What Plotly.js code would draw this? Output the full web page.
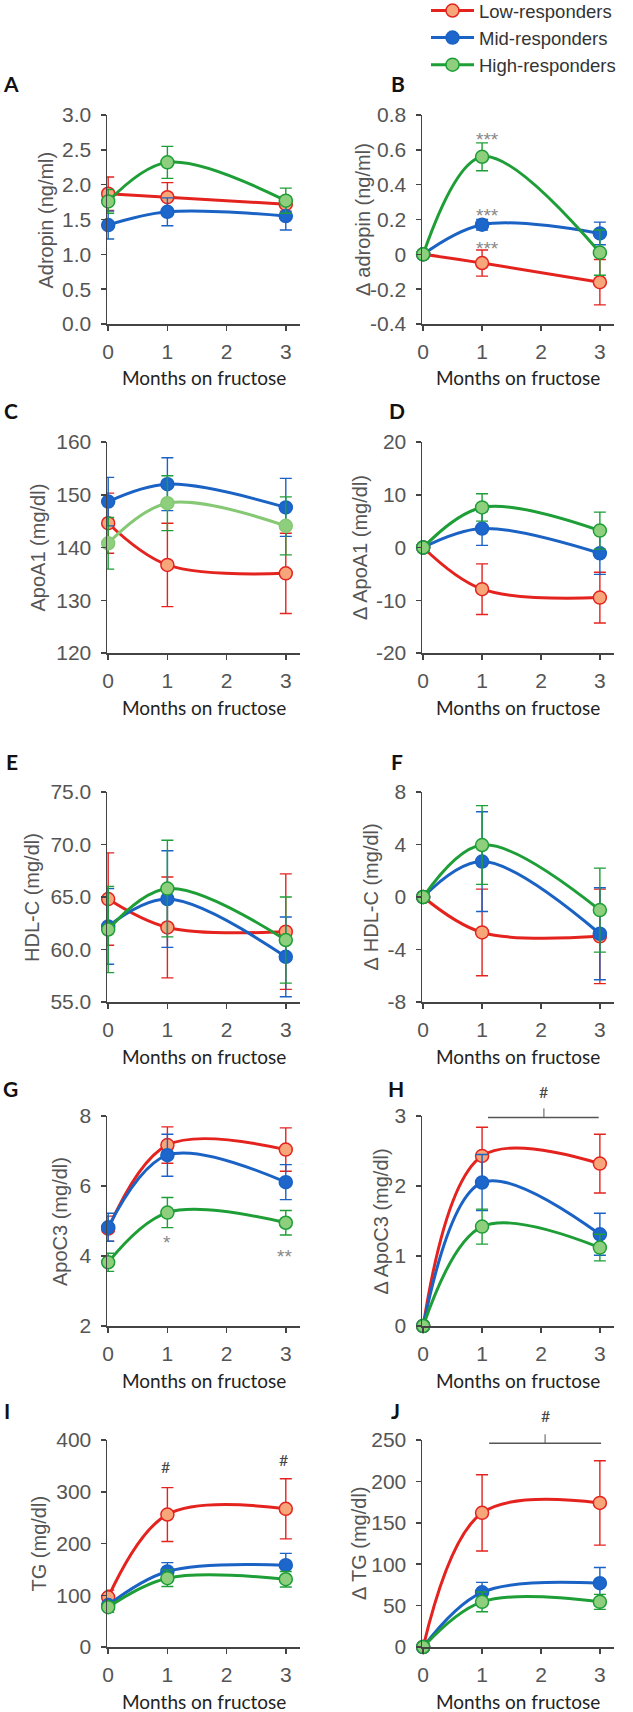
<!DOCTYPE html>
<html>
<head>
<meta charset="utf-8">
<script src="https://cdn.plot.ly/plotly-3.0.1.min.js"></script>
<style>
  html, body { margin: 0; padding: 0; background: #fff; }
  #graphDiv { width: 633px; height: 1712px; }
</style>
</head>
<body>
<div id="graphDiv"></div>
<script>
// x values and group names
var months = [0, 1, 3];
var groups = ['Low-responders', 'Mid-responders', 'High-responders'];

var panelLetters = ['A', 'B', 'C', 'D', 'E', 'F', 'G', 'H', 'I', 'J'];
var yTitles = ['Adropin (ng/ml)', '\u2206 adropin (ng/ml)', 'ApoA1 (mg/dl)', '\u2206 ApoA1 (mg/dl)',
  'HDL-C (mg/dl)', '\u2206 HDL-C (mg/dl)', 'ApoC3 (mg/dl)', '\u2206 ApoC3 (mg/dl)',
  'TG (mg/dl)', '\u2206 TG (mg/dl)'];

// y tick values / labels per panel
var adropinTicks = [0, 0.5, 1, 1.5, 2, 2.5, 3];
var adropinLabels = ['0.0', '0.5', '1.0', '1.5', '2.0', '2.5', '3.0'];
var dAdropinTicks = [-0.4, -0.2, 0, 0.2, 0.4, 0.6, 0.8];
var dAdropinLabels = ['-0.4', '-0.2', '0', '0.2', '0.4', '0.6', '0.8'];
var apoa1Ticks = [120, 130, 140, 150, 160];
var apoa1Labels = ['120', '130', '140', '150', '160'];
var dApoa1Ticks = [-20, -10, 0, 10, 20];
var dApoa1Labels = ['-20', '-10', '0', '10', '20'];
var hdlTicks = [55, 60, 65, 70, 75];
var hdlLabels = ['55.0', '60.0', '65.0', '70.0', '75.0'];
var dHdlTicks = [-8, -4, 0, 4, 8];
var dHdlLabels = ['-8', '-4', '0', '4', '8'];
var apoc3Ticks = [2, 4, 6, 8];
var apoc3Labels = ['2', '4', '6', '8'];
var dApoc3Ticks = [0, 1, 2, 3];
var dApoc3Labels = ['0', '1', '2', '3'];
var tgTicks = [0, 100, 200, 300, 400];
var tgLabels = ['0', '100', '200', '300', '400'];
var dTgTicks = [0, 50, 100, 150, 200, 250];
var dTgLabels = ['0', '50', '100', '150', '200', '250'];
var xTicks = [0, 1, 2, 3];

// means and SE, rows = low, mid, high
var adropinMean = [[1.87, 1.82, 1.72], [1.42, 1.61, 1.55], [1.76, 2.32, 1.77]];
var adropinErr = [[0.24, 0.21, 0.1], [0.2, 0.2, 0.2], [0.17, 0.23, 0.18]];
var dAdropinMean = [[0, -0.05, -0.16], [0, 0.17, 0.12], [0, 0.56, 0.01]];
var dAdropinErr = [[0, 0.075, 0.13], [0, 0.03, 0.065], [0, 0.08, 0.13]];
var apoa1Mean = [[144.6, 136.7, 135.1], [148.7, 152.0, 147.6], [140.8, 148.4, 144.1]];
var apoa1Err = [[5.7, 7.9, 7.6], [4.6, 5.0, 5.5], [4.9, 5.2, 5.5]];
var dApoa1Mean = [[0, -7.9, -9.5], [0, 3.6, -1.1], [0, 7.6, 3.2]];
var dApoa1Err = [[0, 4.8, 4.8], [0, 3.2, 4.0], [0, 2.6, 3.5]];
var hdlMean = [[64.8, 62.1, 61.7], [62.2, 64.8, 59.3], [61.9, 65.8, 60.9]];
var hdlErr = [[4.4, 4.8, 5.5], [3.6, 4.6, 3.8], [4.1, 4.6, 4.1]];
var dHdlMean = [[0, -2.7, -3.0], [0, 2.7, -2.8], [0, 3.96, -1.0]];
var dHdlErr = [[0, 3.3, 3.6], [0, 3.8, 3.5], [0, 3.0, 3.2]];
var apoc3Mean = [[4.78, 7.17, 7.04], [4.82, 6.88, 6.11], [3.82, 5.24, 4.95]];
var apoc3Err = [[0.36, 0.52, 0.62], [0.4, 0.6, 0.5], [0.26, 0.43, 0.35]];
var dApoc3Mean = [[0, 2.43, 2.32], [0, 2.05, 1.31], [0, 1.42, 1.12]];
var dApoc3Err = [[0, 0.41, 0.42], [0, 0.4, 0.3], [0, 0.25, 0.19]];
var tgMean = [[96, 256, 267], [81, 146, 158], [77, 133, 131]];
var tgErr = [[14, 52, 58], [8, 17, 23], [10, 16, 15]];
var dTgMean = [[0, 162, 174], [0, 66, 77], [0, 54.5, 54.5]];
var dTgErr = [[0, 46, 51], [0, 12, 19], [0, 12, 9]];

// significance marks (panel index, x, y, text)
var sigPanel = [1, 1, 1, 6, 6, 8, 8];
var sigX = [1.1, 1.1, 1.1, 1, 2.98, 0.97, 2.96];
var sigY = [0.66, 0.225, 0.035, 4.39, 3.98, 348, 363];
var sigText = ['***', '***', '***', '*', '**', '#', '#'];

// "#" brackets in panels H and J (bracket sits just under the axis top)
var bracketPanel = [7, 9];
var bracketX0 = [1.1, 1.12];
var bracketX1 = [2.98, 3.02];
var bracketY = [2.98, 246];
var bracketMid = [2.05, 2.07];

var means = [adropinMean, dAdropinMean, apoa1Mean, dApoa1Mean, hdlMean, dHdlMean, apoc3Mean, dApoc3Mean, tgMean, dTgMean];
var errs = [adropinErr, dAdropinErr, apoa1Err, dApoa1Err, hdlErr, dHdlErr, apoc3Err, dApoc3Err, tgErr, dTgErr];
var tickVals = [adropinTicks, dAdropinTicks, apoa1Ticks, dApoa1Ticks, hdlTicks, dHdlTicks, apoc3Ticks, dApoc3Ticks, tgTicks, dTgTicks];
var tickText = [adropinLabels, dAdropinLabels, apoa1Labels, dApoa1Labels, hdlLabels, dHdlLabels, apoc3Labels, dApoc3Labels, tgLabels, dTgLabels];

// styling
var W = 633, H = 1712;
var xRange = [-0.02, 3.24];
var lineColors = ['#e4231f', '#1a62c4', '#1e9e36'];
var fillColors = ['#f7a67a', '#1c66cc', '#8ecf7d'];
var rowTop = [115, 442, 792, 1116, 1440];
var rowBottom = [324, 653, 1002, 1326, 1647];
var colLeft = [107, 422];
var colRight = [300, 614];
var yTitleShift = [-62, -60, -70, -63, -75, -51, -47, -41, -69, -64];
var letterX = [11, 398, 11, 397, 12, 397, 10, 396, 7, 395];
var letterY = [83, 83, 410, 410, 762, 762, 1088, 1088, 1410, 1410];
var sans = 'Liberation Sans, Arial, sans-serif';
var calib = 'Lato, Open Sans, sans-serif';
var axisColor = '#444';

function toDomain(v, r) { return (v - r[0]) / (r[1] - r[0]); }

var data = [];
var layout = {
  width: W,
  height: H,
  margin: {l: 0, r: 0, t: 0, b: 0, autoexpand: false},
  paper_bgcolor: '#fff',
  plot_bgcolor: 'rgba(0,0,0,0)',
  showlegend: true,
  legend: {
    x: 426 / W, xanchor: 'left', y: 1 + 8 / H, yanchor: 'top',
    font: {family: sans, size: 18.5, color: '#333'},
    itemwidth: 43, tracegroupgap: 0, bgcolor: 'rgba(0,0,0,0)'
  },
  annotations: [],
  shapes: []
};

for (var p = 0; p < 10; p++) {
  var n = p + 1;
  var sfx = p === 0 ? '' : String(n);
  var row = Math.floor(p / 2), col = p % 2;
  var yv = tickVals[p];

  for (var s = 0; s < 3; s++) {
    var lc = lineColors[s], fc = fillColors[s];
    if (p === 2 && s === 2) { lc = '#86c873'; }
    data.push({
      x: months,
      y: means[p][s],
      xaxis: 'x' + sfx,
      yaxis: 'y' + sfx,
      name: groups[s],
      showlegend: p === 0,
      type: 'scatter',
      mode: 'lines+markers',
      cliponaxis: false,
      line: {shape: 'spline', color: lc, width: 3},
      marker: {size: 13, color: fc, line: {color: lc, width: 1.5}},
      error_y: {type: 'data', array: errs[p][s], visible: true, color: lineColors[s], thickness: 1.4, width: 6}
    });
  }

  layout['xaxis' + sfx] = {
    domain: [colLeft[col] / W, colRight[col] / W],
    anchor: 'y' + sfx,
    range: xRange,
    tickvals: xTicks,
    ticktext: xTicks.map(String),
    showline: true, linecolor: axisColor, linewidth: 1.5,
    ticks: 'outside', ticklen: 5, tickwidth: 1.5, tickcolor: axisColor,
    ticklabelstandoff: 3,
    tickfont: {family: sans, size: 21, color: '#555'},
    showgrid: false, zeroline: false, fixedrange: true
  };
  layout['yaxis' + sfx] = {
    domain: [1 - rowBottom[row] / H, 1 - rowTop[row] / H],
    anchor: 'x' + sfx,
    range: [yv[0], yv[yv.length - 1]],
    tickvals: yv,
    ticktext: tickText[p],
    showline: true, linecolor: axisColor, linewidth: 1.5,
    ticks: 'outside', ticklen: 5, tickwidth: 1.5, tickcolor: axisColor,
    ticklabelstandoff: 5,
    tickfont: {family: sans, size: 21, color: '#555'},
    showgrid: false, zeroline: false, fixedrange: true
  };

  // x title
  layout.annotations.push({
    xref: 'x' + sfx + ' domain', yref: 'y' + sfx + ' domain',
    x: 0.5, y: 0, yshift: -54, xanchor: 'center', yanchor: 'middle',
    text: 'Months on fructose', showarrow: false,
    font: {family: calib, size: 19, color: '#222'}
  });
  // y title
  layout.annotations.push({
    xref: 'x' + sfx + ' domain', yref: 'y' + sfx + ' domain',
    x: 0, y: 0.5, xshift: yTitleShift[p], xanchor: 'center', yanchor: 'middle',
    textangle: -90, text: yTitles[p], showarrow: false,
    font: {family: sans, size: 20, color: '#555'}
  });
  // panel letter
  layout.annotations.push({
    xref: 'paper', yref: 'paper',
    x: letterX[p] / W, y: 1 - letterY[p] / H, xanchor: 'center', yanchor: 'middle',
    text: '<b>' + panelLetters[p] + '</b>', showarrow: false,
    font: {family: calib, size: 21, color: '#111'}
  });
}

// significance text
for (var k = 0; k < sigText.length; k++) {
  var sx = String(sigPanel[k] + 1);
  var isHash = sigText[k] === '#';
  layout.annotations.push({
    xref: 'x' + sx, yref: 'y' + sx, x: sigX[k], y: sigY[k],
    text: sigText[k], showarrow: false, xanchor: 'center', yanchor: 'middle',
    font: isHash ? {family: calib, size: 16, color: '#444'} : {family: sans, size: 19, color: '#888'}
  });
}

// brackets with "#" above the plot top
for (var b = 0; b < bracketPanel.length; b++) {
  var bi = bracketPanel[b];
  var bx = String(bi + 1);
  var yr = [tickVals[bi][0], tickVals[bi][tickVals[bi].length - 1]];
  var yDom = toDomain(bracketY[b], yr);
  layout.shapes.push({
    type: 'line', xref: 'x' + bx + ' domain', yref: 'y' + bx + ' domain',
    x0: toDomain(bracketX0[b], xRange), x1: toDomain(bracketX1[b], xRange), y0: yDom, y1: yDom,
    line: {color: '#555', width: 1.5}
  });
  layout.shapes.push({
    type: 'line', xref: 'x' + bx + ' domain', yref: 'y' + bx + ' domain',
    xsizemode: 'scaled', ysizemode: 'pixel', yanchor: yDom,
    x0: toDomain(bracketMid[b], xRange), x1: toDomain(bracketMid[b], xRange), y0: 0, y1: 9,
    line: {color: '#555', width: 1}
  });
  layout.annotations.push({
    xref: 'x' + bx, yref: 'y' + bx, x: bracketMid[b], y: yr[1], yshift: 25,
    text: '#', showarrow: false, xanchor: 'center', yanchor: 'middle',
    font: {family: calib, size: 16, color: '#444'}
  });
}

Plotly.newPlot('graphDiv', data, layout, {displayModeBar: false, staticPlot: true});
</script>
</body>
</html>
